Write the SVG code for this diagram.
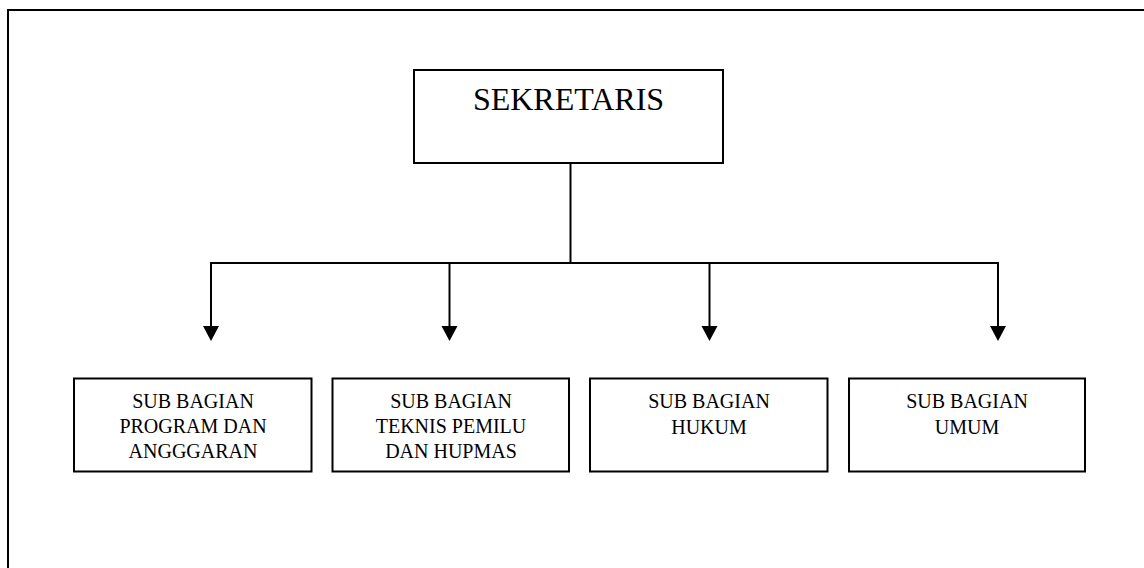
<svg xmlns="http://www.w3.org/2000/svg" width="1144" height="568" viewBox="0 0 1144 568">
<style>
.box{fill:#fff;stroke:#000;stroke-width:2}
.t{font-family:"Liberation Serif","Times New Roman",serif;fill:#000;text-anchor:middle}
.sm{font-size:20px}
.lg{font-size:32px}
.ln{fill:none;stroke:#000;stroke-width:2}
</style>
<defs>
<marker id="ah" markerWidth="8" markerHeight="7" refX="4" refY="7" orient="auto" markerUnits="userSpaceOnUse" viewBox="0 0 8 7">
<path d="M0,0 L8,0 L4,7 Z" fill="#000"/>
</marker>
</defs>
<rect width="1144" height="568" fill="#fff"/>
<path d="M8,568 L8,10 L1144,10" fill="none" stroke="#000" stroke-width="2"/>
<g id="connectors">
<path class="ln" d="M570.5,163 L570.5,263"/>
<path class="ln" d="M211,263 L998,263"/>
<path class="ln" d="M211,262 L211,328"/>
<path class="ln" d="M449.5,263 L449.5,328"/>
<path class="ln" d="M709.5,263 L709.5,328"/>
<path class="ln" d="M998,262 L998,328"/>
<polygon points="203,326 219,326 211,341"/>
<polygon points="441.5,326 457.5,326 449.5,341"/>
<polygon points="701.5,326 717.5,326 709.5,341"/>
<polygon points="990,326 1006,326 998,341"/>
</g>
<g id="sekretaris">
<rect class="box" x="414" y="70" width="309" height="93"/>
<text class="t lg" x="568.5" y="110">SEKRETARIS</text>
</g>
<g id="sub-program">
<rect class="box" x="74" y="378.5" width="237.5" height="93"/>
<text class="t sm" x="193" y="408">SUB BAGIAN</text>
<text class="t sm" x="193" y="433">PROGRAM DAN</text>
<text class="t sm" x="193" y="458">ANGGGARAN</text>
</g>
<g id="sub-teknis">
<rect class="box" x="332.5" y="378.5" width="236.5" height="93"/>
<text class="t sm" x="451" y="408">SUB BAGIAN</text>
<text class="t sm" x="451" y="433">TEKNIS PEMILU</text>
<text class="t sm" x="451" y="458">DAN HUPMAS</text>
</g>
<g id="sub-hukum">
<rect class="box" x="590" y="378.5" width="237.5" height="93"/>
<text class="t sm" x="709" y="408">SUB BAGIAN</text>
<text class="t sm" x="709" y="434">HUKUM</text>
</g>
<g id="sub-umum">
<rect class="box" x="849" y="378.5" width="236" height="93"/>
<text class="t sm" x="967" y="408">SUB BAGIAN</text>
<text class="t sm" x="967" y="434">UMUM</text>
</g>
</svg>
